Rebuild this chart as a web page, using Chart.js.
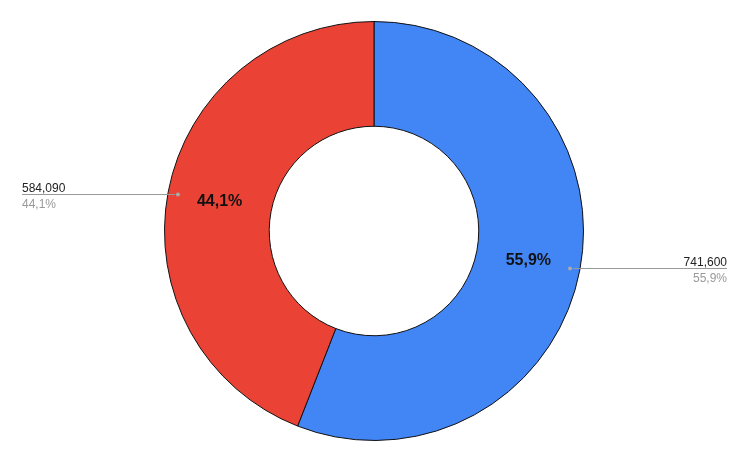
<!DOCTYPE html>
<html>
<head>
<meta charset="utf-8">
<script src="https://cdn.jsdelivr.net/npm/chart.js@4/dist/chart.umd.min.js"></script>
<style>
  html, body { margin: 0; padding: 0; background: #fff; }
  #wrap { width: 748px; height: 463px; }
</style>
</head>
<body>
<div id="wrap"><canvas id="chart" width="748" height="463"></canvas></div>
<script>
const LABELS = ['A', 'B'];
const VALUES = [741600, 584090];
const VALUE_TEXT = ['741,600', '584,090'];
const COLORS = ['#4285F4', '#EA4335'];

const FONT = "Arial, 'Liberation Sans', sans-serif";

function pct(i) {
  const total = VALUES.reduce((a, b) => a + b, 0);
  return (VALUES[i] / total * 100).toFixed(1).replace('.', ',') + '%';
}

// Draws the bold in-ring percentages plus the Google-style leader labels.
const sliceLabels = {
  id: 'sliceLabels',
  afterDatasetsDraw(chart) {
    const { ctx } = chart;
    const meta = chart.getDatasetMeta(0);
    ctx.save();
    meta.data.forEach((arc, i) => {
      const { x, y, startAngle, endAngle, innerRadius, outerRadius } =
        arc.getProps(['x', 'y', 'startAngle', 'endAngle', 'innerRadius', 'outerRadius'], true);
      const mid = (startAngle + endAngle) / 2;
      const cos = Math.cos(mid), sin = Math.sin(mid);

      // inner label
      const rm = (innerRadius + outerRadius) / 2;
      ctx.font = 'bold 16px ' + FONT;
      ctx.fillStyle = '#111';
      ctx.textAlign = 'center';
      ctx.textBaseline = 'middle';
      ctx.fillText(pct(i), x + cos * rm, y + sin * rm);

      // leader dot + line
      const rd = outerRadius - 10;
      const dx = x + cos * rd, dy = Math.round(y + sin * rd) + 0.5;
      ctx.fillStyle = '#aaa';
      ctx.beginPath();
      ctx.arc(dx, dy, 2, 0, Math.PI * 2);
      ctx.fill();

      const right = cos > 0;
      const endX = right ? chart.width - 21 : 22;
      ctx.strokeStyle = '#999';
      ctx.lineWidth = 1;
      ctx.beginPath();
      ctx.moveTo(dx + (right ? 3 : -3), dy);
      ctx.lineTo(endX, dy);
      ctx.stroke();

      ctx.font = '12px ' + FONT;
      ctx.textAlign = right ? 'right' : 'left';
      ctx.textBaseline = 'alphabetic';
      ctx.fillStyle = '#222';
      ctx.fillText(VALUE_TEXT[i], endX, dy - 3);
      ctx.fillStyle = '#999';
      ctx.fillText(pct(i), endX, dy + 13);
    });
    ctx.restore();
  }
};

new Chart(document.getElementById('chart'), {
  type: 'doughnut',
  data: {
    labels: LABELS,
    datasets: [{
      data: VALUES,
      backgroundColor: COLORS,
      borderColor: '#111',
      borderWidth: 1
    }]
  },
  options: {
    responsive: false,
    animation: false,
    cutout: '50%',
    layout: { padding: { top: 21, bottom: 22 } },
    plugins: { legend: { display: false }, tooltip: { enabled: false } }
  },
  plugins: [sliceLabels]
});
</script>
</body>
</html>
